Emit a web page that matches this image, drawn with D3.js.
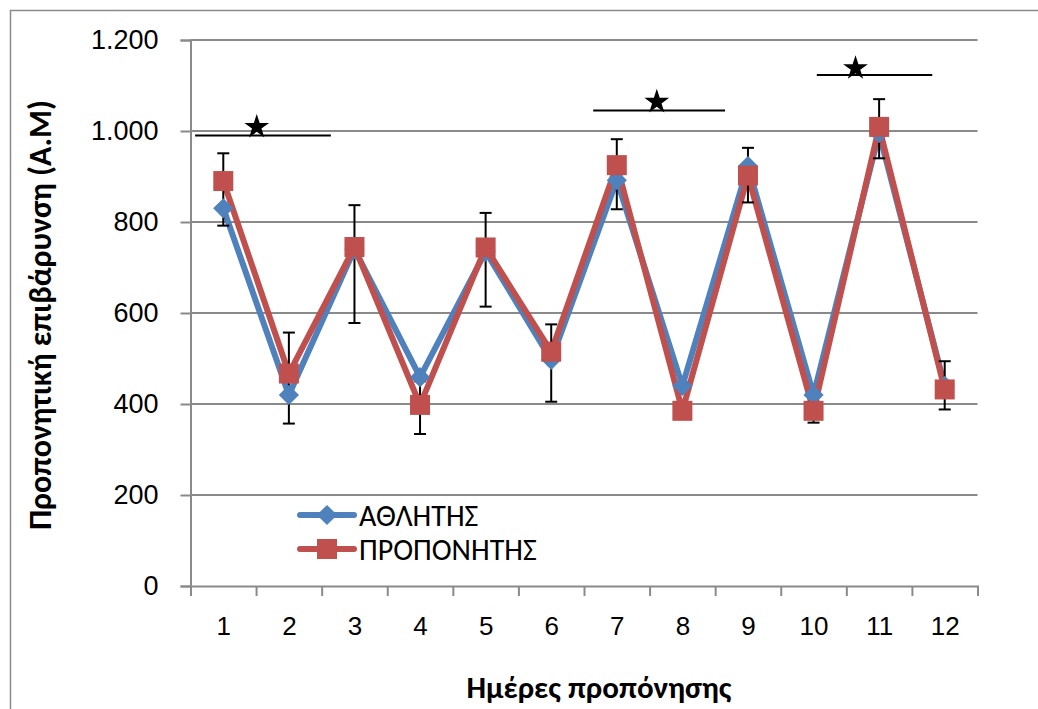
<!DOCTYPE html>
<html>
<head>
<meta charset="utf-8">
<script src="https://cdn.jsdelivr.net/npm/d3@7"></script>
<style>
  body { margin: 0; background: #fff; }
  svg { display: block; font-family: Carlito, Calibri, "Liberation Sans", Arial, sans-serif; }
</style>
</head>
<body>
<svg id="chart"></svg>
<script>
// data
const days = [1, 2, 3, 4, 5, 6, 7, 8, 9, 10, 11, 12];
const athlete = [830, 420, 740, 459, 735, 497, 892, 440, 923, 420, 995, 440];
const coach = [890, 467, 745, 398, 744, 515, 925, 385, 902, 385, 1009, 432];
const errHigh = [951, 557, 837, 450, 820, 575, 982, 400, 963, 405, 1070, 494];
const errLow = [792, 357, 578, 334, 614, 405, 828, 372, 843, 359, 940, 388];
const yTicks = [0, 200, 400, 600, 800, 1000, 1200];
const seriesNames = ["ΑΘΛΗΤΗΣ", "ΠΡΟΠΟΝΗΤΗΣ"];
// significance marks: start day, end day, level (day units / value units)
const sigFrom = [0.57, 6.64, 10.05];
const sigTo = [2.64, 8.65, 11.81];
const sigY = [990, 1045, 1123];
const starX = [1.51, 7.61, 10.64];
const starY = [1009, 1064, 1138];

const W = 1038, H = 709;
const svg = d3.select("#chart").attr("width", W).attr("height", H);

const blue = "#4f81bd", red = "#c0504d", grid = "#8a8a8a";

// outer frame (only top & left visible)
svg.append("rect")
  .attr("x", 10.5).attr("y", 10.5)
  .attr("width", W + 20).attr("height", H + 20)
  .attr("fill", "none").attr("stroke", grid).attr("stroke-width", 1.5);

const x = d3.scaleLinear().domain([0.5, 12.5]).range([190.5, 977.5]);
const y = d3.scaleLinear().domain([0, 1200]).range([586, 40]);

const grLocale = d3.formatLocale({decimal: ",", thousands: ".", grouping: [3], currency: ["", "€"]});
const fmt = grLocale.format(",");

// gridlines
svg.append("g")
  .selectAll("line")
  .data(yTicks.filter(d => d > 0))
  .join("line")
  .attr("x1", x(0.5)).attr("x2", x(12.5))
  .attr("y1", d => y(d)).attr("y2", d => y(d))
  .attr("stroke", grid).attr("stroke-width", 2);

// y axis
const yAxis = svg.append("g")
  .attr("transform", `translate(${x(0.5)},0)`)
  .call(d3.axisLeft(y).tickValues(yTicks).tickSize(10).tickPadding(22).tickFormat(fmt));
yAxis.select(".domain").attr("stroke", grid).attr("stroke-width", 2);
yAxis.selectAll(".tick line").attr("stroke", grid).attr("stroke-width", 2);
yAxis.selectAll(".tick text").attr("font-size", 27).attr("fill", "#000").attr("font-family", null);

// x axis: tick marks between days, labels at the days
const xAxis = svg.append("g")
  .attr("transform", `translate(0,${y(0)})`)
  .call(d3.axisBottom(x).tickValues(d3.range(0.5, 13, 1)).tickSize(10).tickFormat(""));
xAxis.select(".domain").attr("stroke", grid).attr("stroke-width", 2);
xAxis.selectAll(".tick line").attr("stroke", grid).attr("stroke-width", 2);

svg.append("g")
  .attr("transform", `translate(0,${y(0)})`)
  .call(d3.axisBottom(x).tickValues(days).tickSize(0).tickPadding(31).tickFormat(d3.format("d")))
  .call(g => g.select(".domain").remove())
  .selectAll("text").attr("font-size", 26).attr("fill", "#000").attr("font-family", null);

// axis titles
svg.append("text")
  .attr("transform", `translate(51,${(y(0) + y(1200)) / 2 + 2}) rotate(-90)`)
  .attr("text-anchor", "middle")
  .attr("font-size", 32).attr("font-weight", "bold")
  .text("Προπονητική επιβάρυνση (Α.Μ)");

svg.append("text")
  .attr("x", 599).attr("y", 698)
  .attr("text-anchor", "middle")
  .attr("font-size", 31).attr("font-weight", "bold")
  .text("Ημέρες προπόνησης");

// lines
const line = d3.line().x((d, i) => x(days[i])).y(d => y(d));
[[athlete, blue], [coach, red]].forEach(([vals, col]) => {
  svg.append("path").datum(vals)
    .attr("d", line)
    .attr("fill", "none").attr("stroke", col)
    .attr("stroke-width", 6).attr("stroke-linejoin", "round");
});

// error bars
const eb = svg.append("g").attr("stroke", "#000").attr("stroke-width", 2);
eb.selectAll("line.v").data(days).join("line").attr("class", "v")
  .attr("x1", d => x(d)).attr("x2", d => x(d))
  .attr("y1", (d, i) => y(errLow[i])).attr("y2", (d, i) => y(errHigh[i]));
eb.selectAll("line.hi").data(days).join("line").attr("class", "hi")
  .attr("x1", d => x(d) - 6).attr("x2", d => x(d) + 6)
  .attr("y1", (d, i) => y(errHigh[i])).attr("y2", (d, i) => y(errHigh[i]));
eb.selectAll("line.lo").data(days).join("line").attr("class", "lo")
  .attr("x1", d => x(d) - 6).attr("x2", d => x(d) + 6)
  .attr("y1", (d, i) => y(errLow[i])).attr("y2", (d, i) => y(errLow[i]));

// markers
const diamond = d3.symbol(d3.symbolDiamond2, 260);
svg.append("g").selectAll("path").data(athlete).join("path")
  .attr("d", diamond)
  .attr("transform", (d, i) => `translate(${x(days[i])},${y(d)})`)
  .attr("fill", blue);
svg.append("g").selectAll("rect").data(coach).join("rect")
  .attr("x", (d, i) => x(days[i]) - 10).attr("y", d => y(d) - 10)
  .attr("width", 20).attr("height", 20)
  .attr("fill", red);

// significance bars and stars
const sig = svg.append("g");
sig.selectAll("line").data(sigFrom).join("line")
  .attr("x1", d => x(d)).attr("x2", (d, i) => x(sigTo[i]))
  .attr("y1", (d, i) => y(sigY[i])).attr("y2", (d, i) => y(sigY[i]))
  .attr("stroke", "#000").attr("stroke-width", 2);
sig.selectAll("path").data(starX).join("path")
  .attr("d", d3.symbol(d3.symbolStar, 190))
  .attr("transform", (d, i) => `translate(${x(d)},${y(starY[i])})`)
  .attr("fill", "#000");

// legend
const legend = svg.append("g");
const legY = [515, 549];
const legendItems = legend.selectAll("g").data(seriesNames).join("g")
  .attr("transform", (d, i) => `translate(300,${legY[i]})`);
legendItems.append("line")
  .attr("x1", 0).attr("x2", 54)
  .attr("stroke", (d, i) => i ? red : blue)
  .attr("stroke-width", 6).attr("stroke-linecap", "round");
legendItems.filter((d, i) => i === 0).append("path")
  .attr("d", diamond).attr("transform", "translate(27,0)").attr("fill", blue);
legendItems.filter((d, i) => i === 1).append("rect")
  .attr("x", 17).attr("y", -10).attr("width", 20).attr("height", 20).attr("fill", red);
legendItems.append("text")
  .attr("x", 59).attr("dy", "0.36em")
  .attr("font-size", 30)
  .text(d => d);
</script>
</body>
</html>
